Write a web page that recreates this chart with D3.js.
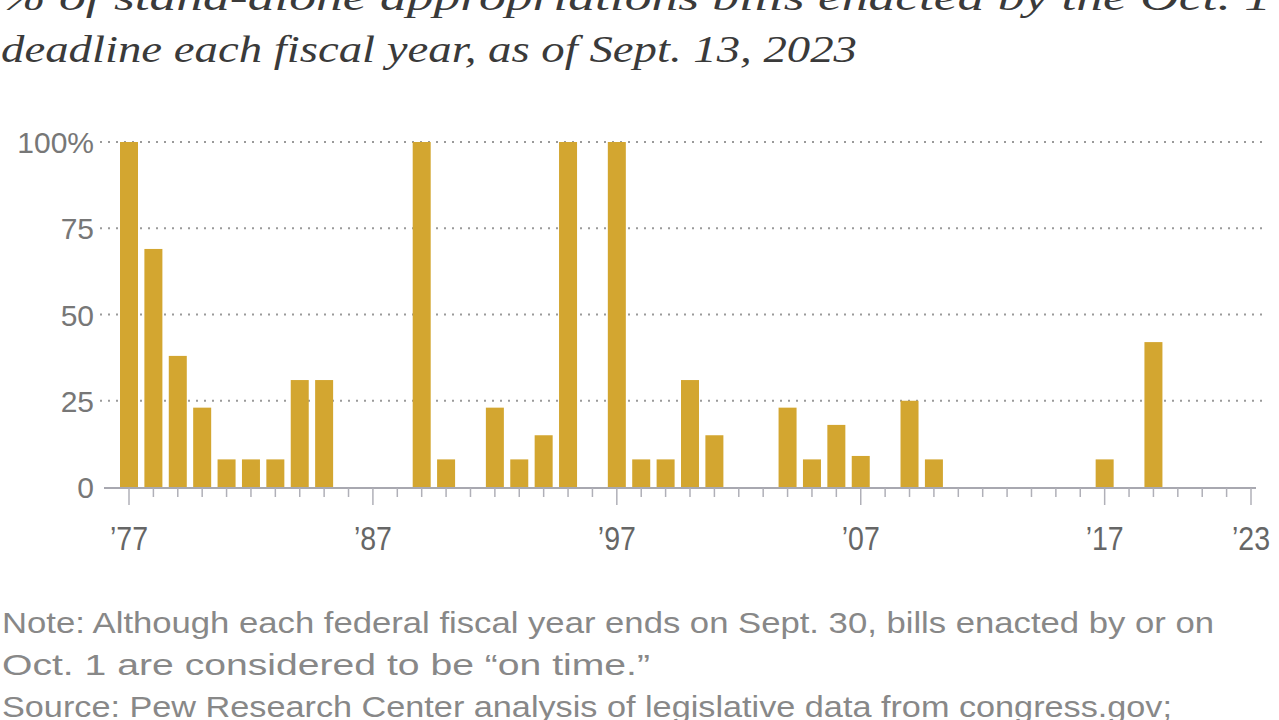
<!DOCTYPE html>
<html><head><meta charset="utf-8">
<script src="https://cdn.jsdelivr.net/npm/d3@7"></script>
<style>body{margin:0;background:#fff;overflow:hidden}svg{display:block}</style>
</head><body><svg id="c" width="1279" height="720"></svg>
<script>
const years = d3.range(1977, 2024);
const values = [100,69,38,23,8,8,8,31,31,0,0,0,100,8,0,23,8,15,100,0,100,8,8,31,15,0,0,23,8,18,9,0,25,8,0,0,0,0,0,0,8,0,42,0,0,0,0];
const yTicks = [0,25,50,75,100];
const xTickYears = [1977,1987,1997,2007,2017,2023];
const xTickLabels = ["\u201977","\u201987","\u201997","\u201907","\u201917","\u201923"];
const titleLines = ["% of stand-alone appropriations bills enacted by the Oct. 1","deadline each fiscal year, as of Sept. 13, 2023"];
const noteLines = ["Note: Although each federal fiscal year ends on Sept. 30, bills enacted by or on","Oct. 1 are considered to be \u201con time.\u201d","Source: Pew Research Center analysis of legislative data from congress.gov;"];

const svg = d3.select("#c");
const x = d3.scaleLinear().domain([1977,2023]).range([129,1251]);
const y = d3.scaleLinear().domain([0,100]).range([487,142]);
const barW = 18;

// title
titleLines.forEach((s,i)=>{
  svg.append("text").attr("x",1).attr("y",10+i*52).attr("font-family","'Liberation Serif', 'DejaVu Serif', serif")
   .attr("font-style","italic").attr("font-size",38).attr("fill","#3a3a3a").text(s)
   .attr("textLength", i==0? 1270: 856).attr("lengthAdjust","spacingAndGlyphs");
});

// grid
svg.append("g").selectAll("line").data(yTicks.filter(d=>d>0)).join("line")
  .attr("x1",100).attr("x2",1266).attr("y1",d=>y(d)).attr("y2",d=>y(d))
  .attr("stroke","#9a9a9a").attr("stroke-width",2).attr("stroke-dasharray","2,6");

// y labels
svg.append("g").selectAll("text").data(yTicks).join("text")
  .attr("x",94).attr("y",d=>y(d)+11).attr("text-anchor","end")
  .attr("font-family","'Liberation Sans', Arial, sans-serif").attr("font-size",30).attr("fill","#777")
  .text(d=>d===100?"100%":d);

// bars
svg.append("g").selectAll("rect").data(years.map((yr,i)=>({yr,v:values[i]})).filter(d=>d.v>0)).join("rect")
  .attr("x",d=>x(d.yr)-barW/2).attr("width",barW).attr("y",d=>y(d.v)).attr("height",d=>y(0)-y(d.v))
  .attr("fill","#d3a630");

// x axis
const xa = svg.append("g");
xa.append("line").attr("x1",104).attr("x2",1256).attr("y1",y(0)+1).attr("y2",y(0)+1).attr("stroke","#a8a8b0").attr("stroke-width",2);
xa.selectAll("line.t").data(years).join("line").attr("class","t")
  .attr("x1",d=>x(d)).attr("x2",d=>x(d)).attr("y1",y(0)+1)
  .attr("y2",d=>xTickYears.includes(d)? y(0)+18 : y(0)+10)
  .attr("stroke","#b0b0b8").attr("stroke-width",1.5);
xa.selectAll("text").data(xTickYears).join("text")
  .attr("x",d=>x(d)).attr("y",550).attr("text-anchor","middle")
  .attr("font-family","'Liberation Sans', Arial, sans-serif").attr("font-size",34).attr("fill","#666")
  .attr("textLength",38).attr("lengthAdjust","spacingAndGlyphs")
  .text((d,i)=>xTickLabels[i]);

// notes
const nw = [1212, 648, 1170];
noteLines.forEach((s,i)=>{
  svg.append("text").attr("x",2).attr("y",633+i*42)
   .attr("font-family","'Liberation Sans Narrow','Liberation Sans', Arial, sans-serif").attr("font-size",30).attr("fill","#888")
   .attr("textLength",nw[i]).attr("lengthAdjust","spacingAndGlyphs").text(s);
});
</script></body></html>
